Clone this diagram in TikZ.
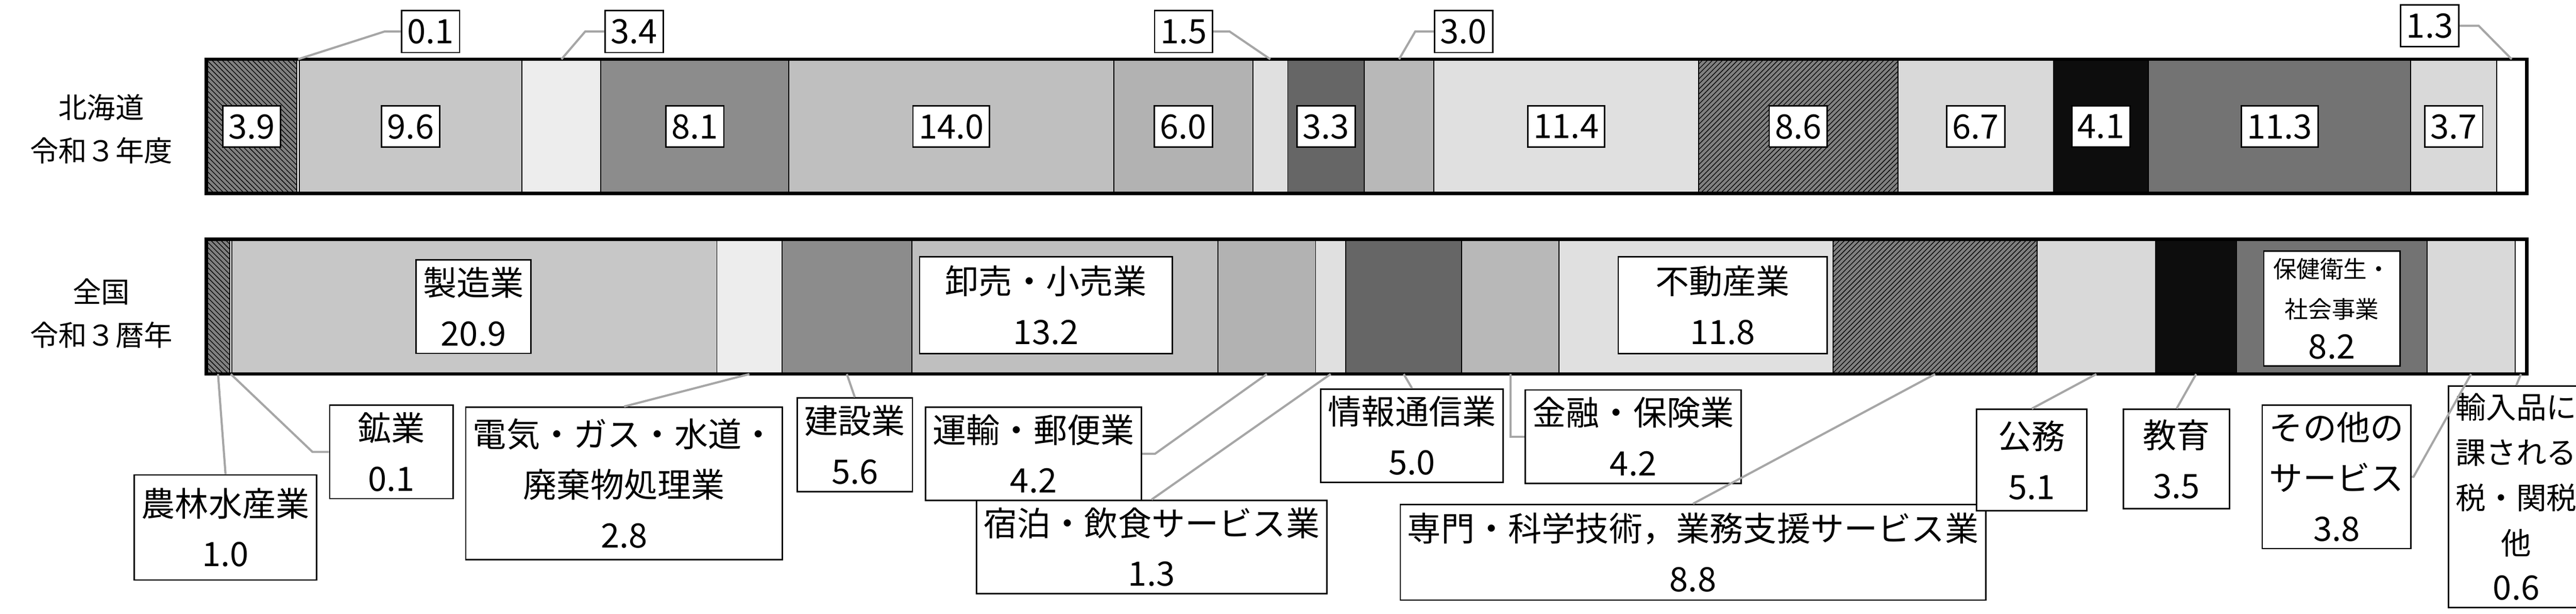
\documentclass[tikz,border=0pt]{standalone}
\usepackage{fontspec}
\setmainfont{Noto Sans CJK JP}
\usetikzlibrary{positioning,patterns}

\tikzset{
  agri/.style={fill=black!50,postaction={pattern=north west lines}},
  mine/.style={fill=white},
  manu/.style={fill=black!22},
  util/.style={fill=black!7},
  cons/.style={fill=black!45},
  trade/.style={fill=black!25},
  trans/.style={fill=black!30},
  hotel/.style={fill=black!12},
  info/.style={fill=black!60},
  fin/.style={fill=black!28},
  estate/.style={fill=black!12},
  prof/.style={fill=black!50,postaction={pattern=north east lines}},
  pub/.style={fill=black!15},
  edu/.style={fill=black!95},
  health/.style={fill=black!55},
  other/.style={fill=black!15},
  tax/.style={fill=white},
  val/.style={draw,fill=white,line width=0.03cm,inner xsep=0.12cm,minimum height=0.86cm,font=\fontsize{20}{26}\selectfont},
  tag/.style={draw,fill=white,line width=0.03cm,align=center,inner sep=0.15cm,font=\fontsize{20}{30}\selectfont},
  leader/.style={draw=black!35,line width=0.045cm}
}

\begin{document}
\begin{tikzpicture}
  \useasboundingbox (0,0) rectangle (53.91,12.85);
  % 北海道
  \foreach \a/\b/\s [count=\i] in {0/3.9/agri,3.9/4.0/mine,4.0/13.6/manu,13.6/17.0/util,17.0/25.1/cons,25.1/39.1/trade,39.1/45.1/trans,45.1/46.6/hotel,46.6/49.9/info,49.9/52.9/fin,52.9/64.3/estate,64.3/72.9/prof,72.9/79.6/pub,79.6/83.7/edu,83.7/95.0/health,95.0/98.7/other,98.7/100/tax} {
    \path[\s,draw,line width=0.02cm] ({4.32+\a*0.4856},8.80) rectangle ({4.32+\b*0.4856},11.61);
    \coordinate (h\i) at ({4.32+(\a+\b)/2*0.4856},11.61);
  }
  \draw[line width=0.07cm] (4.32,8.80) rectangle (52.88,11.61);
  % 全国
  \foreach \a/\b/\s [count=\i] in {0/1.0/agri,1.0/1.1/mine,1.1/22.0/manu,22.0/24.8/util,24.8/30.4/cons,30.4/43.6/trade,43.6/47.8/trans,47.8/49.1/hotel,49.1/54.1/info,54.1/58.3/fin,58.3/70.1/estate,70.1/78.9/prof,78.9/84.0/pub,84.0/87.5/edu,87.5/95.7/health,95.7/99.5/other,99.5/100/tax} {
    \path[\s,draw,line width=0.02cm] ({4.32+\a*0.4856},5.02) rectangle ({4.32+\b*0.4856},7.84);
    \coordinate (n\i) at ({4.32+(\a+\b)/2*0.4856},5.02);
  }
  \draw[line width=0.07cm] (4.32,5.02) rectangle (52.88,7.84);

  \node[align=center,font=\fontsize{17}{26}\selectfont] (hkd) at (2.12,10.15) {北海道\\令和３年度};
  \node[align=center,font=\fontsize{17}{26}\selectfont] (jpn) at (2.12,6.29) {全国\\令和３暦年};

  \coordinate (hmid) at (0,10.20);
  \foreach \i/\v in {1/3.9,3/9.6,5/8.1,6/14.0,7/6.0,9/3.3,11/11.4,12/8.6,13/6.7,14/4.1,15/11.3,16/3.7}
    \node[val] (hv\i) at (h\i |- hmid) {\v};

  % callouts above
  \node[val,minimum height=0.88cm] (hv2) at (9.01,12.19) {0.1};
  \node[val,minimum height=0.88cm] (hv4) at (13.27,12.19) {3.4};
  \node[val,minimum height=0.88cm] (hv8) at (24.77,12.19) {1.5};
  \node[val,minimum height=0.88cm] (hv10) at (30.63,12.19) {3.0};
  \node[val,minimum height=0.88cm] (hv17) at (50.85,12.31) {1.3};
  \draw[leader] (hv2.west) -- ++(-0.34,0) -- (h2);
  \draw[leader] (hv4.west) -- ++(-0.4,0) -- (h4);
  \draw[leader] (hv8.east) -- ++(0.34,0) -- (h8);
  \draw[leader] (hv10.west) -- ++(-0.39,0) -- (h10);
  \draw[leader] (hv17.east) -- ++(0.4,0) -- (h17);

  % labels inside
  \node[tag,minimum width=2.26cm,minimum height=1.73cm] (nv3) at (9.91,6.43) {製造業\\20.9};
  \node[tag,minimum width=5.29cm,minimum height=2.03cm] (nv6) at (21.89,6.46) {卸売・小売業\\13.2};
  \node[tag,minimum width=4.37cm,minimum height=2.03cm] (nv11) at (36.05,6.46) {不動産業\\11.8};
  \node[tag,minimum width=2.85cm,minimum height=2.32cm,font=\fontsize{14}{24}\selectfont] (nv15) at (48.80,6.39) {保健衛生・\\社会事業\\{\fontsize{20}{24}\selectfont 8.2}};

  % labels below
  \node[tag,minimum width=3.79cm,minimum height=2.20cm] (nv1) at (4.72,1.81) {農林水産業\\1.0};
  \node[tag,minimum width=2.58cm,minimum height=1.88cm] (nv2) at (8.19,3.39) {鉱業\\0.1};
  \node[tag,minimum width=6.57cm,minimum height=3.19cm] (nv4) at (13.06,2.73) {電気・ガス・水道・\\廃棄物処理業\\2.8};
  \node[tag,minimum width=2.26cm,minimum height=1.76cm] (nv5) at (17.89,3.54) {建設業\\5.6};
  \node[tag,minimum width=4.26cm,minimum height=1.76cm] (nv7) at (21.63,3.35) {運輸・郵便業\\4.2};
  \node[tag,minimum width=6.96cm,minimum height=1.77cm] (nv8) at (24.10,1.40) {宿泊・飲食サービス業\\1.3};
  \node[tag,minimum width=3.58cm,minimum height=1.76cm] (nv9) at (29.55,3.73) {情報通信業\\5.0};
  \node[tag,minimum width=4.35cm,minimum height=1.92cm] (nv10) at (34.18,3.71) {金融・保険業\\4.2};
  \node[tag,minimum width=11.60cm,minimum height=2.00cm] (nv12) at (35.43,1.29) {専門・科学技術，業務支援サービス業\\8.8};
  \node[tag,minimum width=2.31cm,minimum height=2.12cm] (nv13) at (42.52,3.22) {公務\\5.1};
  \node[tag,minimum width=2.22cm,minimum height=2.08cm] (nv14) at (45.55,3.24) {教育\\3.5};
  \node[tag,minimum width=2.45cm,minimum height=2.86cm] (nv16) at (48.90,2.87) {その他の\\サービス\\3.8};
  \node[tag,minimum width=2.39cm,minimum height=4.00cm,font=\fontsize{18}{27}\selectfont] (nv17) at (52.66,2.45) {輸入品に\\課される\\税・関税\\他\\{\fontsize{20}{24}\selectfont 0.6}};

  \draw[leader] (n1) -- (nv1.north);
  \draw[leader] (n2) -- (6.54,3.39) -- (nv2.west);
  \draw[leader] (n4) -- (nv4.north);
  \draw[leader] (n5) -- (nv5.north);
  \draw[leader] (n7) -- (24.17,3.35) -- (nv7.east);
  \draw[leader] (n8) -- (nv8.north);
  \draw[leader] (n9) -- (nv9.north);
  \draw[leader] (n10) -- (n10 |- nv10.west) -- (nv10.west);
  \draw[leader] (n12) -- (nv12.north);
  \draw[leader] (n13) -- (nv13.north);
  \draw[leader] (n14) -- (nv14.north);
  \draw[leader] (n16) -- (50.51,2.87) -- (nv16.east);
  \draw[leader] (n17) -- (nv17.north);
\end{tikzpicture}
\end{document}
